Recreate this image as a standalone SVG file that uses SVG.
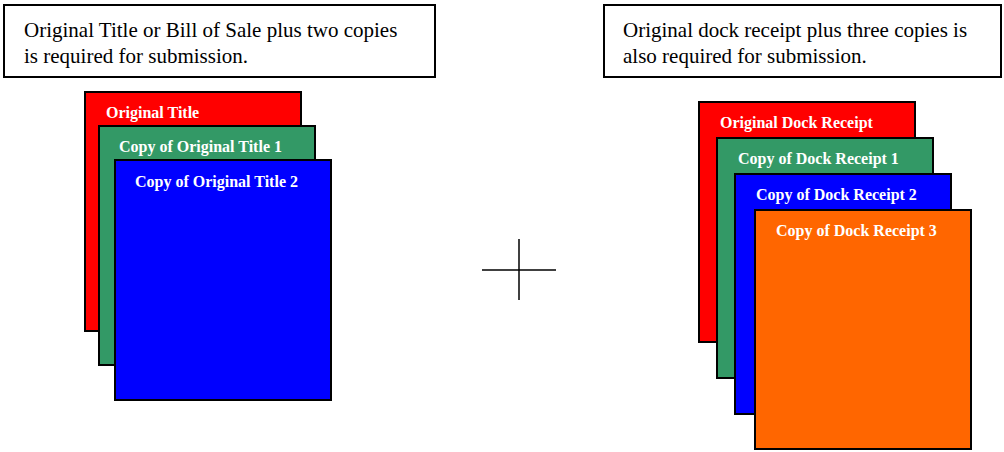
<svg xmlns="http://www.w3.org/2000/svg" width="1004" height="452" viewBox="0 0 1004 452">
<style>
.box{fill:#fff;stroke:#000;stroke-width:2}
.desc{font-family:"Liberation Serif","Times New Roman",serif;font-size:21px;fill:#000}
.card{stroke:#000;stroke-width:2}
.lbl{font-family:"Liberation Serif","Times New Roman",serif;font-size:16px;font-weight:bold;fill:#fff}
.cross{stroke:#000;stroke-width:1.5}
</style>
<rect width="1004" height="452" fill="#fff"/>
<g id="note-left">
<rect class="box" x="4" y="5" width="431" height="72"/>
<text class="desc" x="24" y="37">Original Title or Bill of Sale plus two copies</text>
<text class="desc" x="24" y="63">is required for submission.</text>
</g>
<g id="note-right">
<rect class="box" x="604" y="5" width="397" height="72"/>
<text class="desc" x="623" y="37">Original dock receipt plus three copies is</text>
<text class="desc" x="623" y="63">also required for submission.</text>
</g>
<g id="original-title">
<rect class="card" x="85" y="92" width="216" height="239" fill="#FF0000"/>
<text class="lbl" x="106" y="118">Original Title</text>
</g>
<g id="copy-title-1">
<rect class="card" x="99" y="126" width="216" height="239" fill="#339966"/>
<text class="lbl" x="119" y="152">Copy of Original Title 1</text>
</g>
<g id="copy-title-2">
<rect class="card" x="115" y="160" width="216" height="240" fill="#0000FF"/>
<text class="lbl" x="135" y="187">Copy of Original Title 2</text>
</g>
<g id="connectors">
<line class="cross" x1="482" y1="270" x2="556" y2="270"/>
<line class="cross" x1="519" y1="239" x2="519" y2="300"/>
</g>
<g id="original-dock">
<rect class="card" x="699" y="102" width="216" height="240" fill="#FF0000"/>
<text class="lbl" x="720" y="128">Original Dock Receipt</text>
</g>
<g id="copy-dock-1">
<rect class="card" x="717" y="138" width="216" height="240" fill="#339966"/>
<text class="lbl" x="738" y="164">Copy of Dock Receipt 1</text>
</g>
<g id="copy-dock-2">
<rect class="card" x="735" y="174" width="216" height="240" fill="#0000FF"/>
<text class="lbl" x="756" y="200">Copy of Dock Receipt 2</text>
</g>
<g id="copy-dock-3">
<rect class="card" x="755" y="210" width="216" height="239" fill="#FF6600"/>
<text class="lbl" x="776" y="236">Copy of Dock Receipt 3</text>
</g>
</svg>
